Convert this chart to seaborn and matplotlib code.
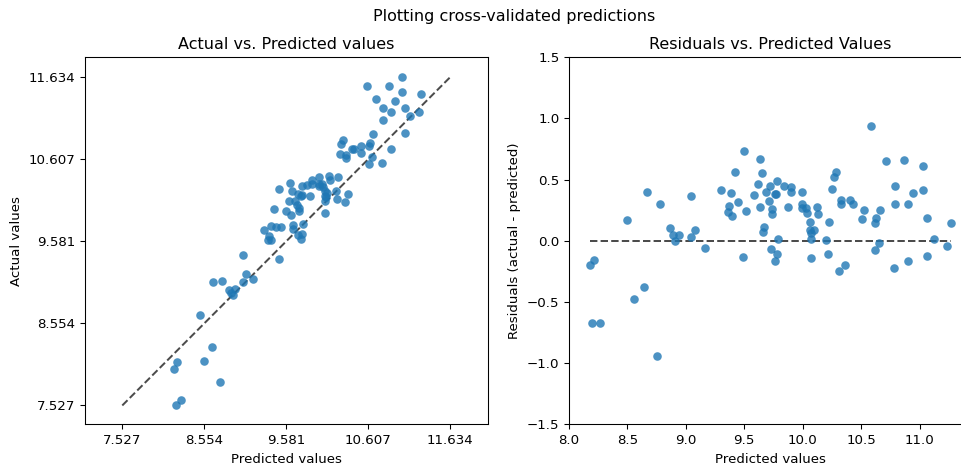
import numpy as np
import pandas as pd
import matplotlib
matplotlib.use("Agg")
import matplotlib.pyplot as plt
import seaborn as sns

# cross-validated predictions
predicted = [8.177, 8.217, 8.200, 8.268, 8.496, 8.556, 8.644, 8.664, 8.753, 8.776,
             8.864, 8.893, 8.910, 8.941, 9.041, 9.041, 9.075, 9.166, 9.300, 9.357,
             9.366, 9.383, 9.394, 9.449, 9.420, 9.494, 9.491, 9.517, 9.580, 9.617,
             9.631, 9.637, 9.651, 9.660, 9.668, 9.685, 9.708, 9.722, 9.725, 9.737,
             9.740, 9.760, 9.771, 9.765, 9.782, 9.788, 9.782, 9.837, 9.871, 9.902,
             9.902, 9.990, 9.993, 9.993, 10.025, 10.039, 10.062, 10.059, 10.073, 10.067,
             10.093, 10.067, 10.119, 10.130, 10.199, 10.219, 10.227, 10.247, 10.270, 10.287,
             10.313, 10.327, 10.330, 10.358, 10.407, 10.427, 10.510, 10.521, 10.586, 10.618,
             10.629, 10.621, 10.652, 10.663, 10.709, 10.780, 10.786, 10.792, 10.869, 10.897,
             10.897, 10.940, 11.026, 11.026, 11.060, 11.060, 11.123, 11.237, 11.268]
residuals = [-0.195, -0.152, -0.673, -0.671, 0.168, -0.472, -0.380, 0.402, -0.937, 0.304,
             0.103, 0.046, -0.003, 0.046, 0.364, 0.035, 0.090, -0.054, 0.418, 0.236,
             0.285, 0.391, 0.204, 0.315, 0.559, 0.736, -0.133, 0.242, 0.377, 0.464,
             0.673, 0.274, 0.557, 0.076, 0.114, 0.399, 0.329, 0.448, -0.065, 0.258,
             0.220, 0.383, 0.383, -0.163, -0.111, 0.014, 0.486, 0.451, 0.277, 0.440,
             0.396, 0.396, 0.304, 0.272, 0.266, 0.225, 0.152, 0.090, 0.065, 0.014,
             0.090, -0.136, 0.274, 0.217, 0.005, -0.109, 0.152, 0.426, 0.521, 0.565,
             -0.242, 0.299, 0.334, -0.193, 0.331, 0.304, 0.179, 0.253, 0.937, 0.147,
             0.185, -0.076, -0.016, 0.253, 0.649, -0.225, 0.304, 0.451, 0.657, -0.163,
             0.304, 0.391, 0.608, 0.418, 0.187, -0.122, 0.019, -0.043, 0.149]

df = pd.DataFrame({"predicted": predicted, "residual": residuals})
df["actual"] = df["predicted"] + df["residual"]

fs_tick = 9.6
fs_title = 11.5
blue = "#1f77b4"

fig = plt.figure(figsize=(9.62, 4.65), dpi=100)
ax1 = fig.add_axes([0.08784, 0.0871, 0.41975, 0.78968])
ax2 = fig.add_axes([0.59148, 0.0871, 0.41788, 0.78968])

# --- Actual vs predicted
vmin = min(df["actual"].min(), df["predicted"].min())
vmax = max(df["actual"].max(), df["predicted"].max())
line1 = pd.DataFrame({"x": [vmin, vmax], "y": [vmin, vmax]})
sns.lineplot(data=line1, x="x", y="y", ax=ax1, color="black", alpha=0.7,
             linestyle="--", linewidth=1.44, zorder=1)
sns.scatterplot(data=df, x="predicted", y="actual", ax=ax1, color=blue,
                alpha=0.8, s=38, linewidth=0, zorder=2)
ticks = np.linspace(vmin, vmax, 5)
ax1.set_xticks(ticks)
ax1.set_yticks(ticks)
ax1.set_xticklabels([f"{t:.3f}" for t in ticks])
ax1.set_yticklabels([f"{t:.3f}" for t in ticks])
ax1.set_xlim(7.054, 12.109)
ax1.set_ylim(7.289, 11.880)
ax1.set_xlabel("Predicted values", fontsize=fs_tick)
ax1.set_ylabel("Actual values", fontsize=fs_tick)
ax1.set_title("Actual vs. Predicted values", fontsize=fs_title)

# --- Residuals vs predicted
line2 = pd.DataFrame({"x": [df["predicted"].min(), df["predicted"].max()], "y": [0, 0]})
sns.lineplot(data=line2, x="x", y="y", ax=ax2, color="black", alpha=0.7,
             linestyle="--", linewidth=1.44, zorder=1)
sns.scatterplot(data=df, x="predicted", y="residual", ax=ax2, color=blue,
                alpha=0.8, s=38, linewidth=0, zorder=2)
ax2.set_xlim(8.0, 11.44)
ax2.set_ylim(-1.5, 1.5)
ax2.set_xticks([8.0, 8.5, 9.0, 9.5, 10.0, 10.5, 11.0])
ax2.set_yticks([-1.5, -1.0, -0.5, 0.0, 0.5, 1.0, 1.5])
ax2.set_xlabel("Predicted values", fontsize=fs_tick)
ax2.set_ylabel("Residuals (actual - predicted)", fontsize=fs_tick)
ax2.set_title("Residuals vs. Predicted Values", fontsize=fs_title)

for ax in (ax1, ax2):
    ax.tick_params(labelsize=fs_tick, length=3.4, width=0.77)
    for sp in ax.spines.values():
        sp.set_linewidth(0.77)

fig.text(514 / 962, 1 - 16 / 465, "Plotting cross-validated predictions",
         ha="center", va="center", fontsize=fs_title)

fig.savefig("out.png", dpi=100)
